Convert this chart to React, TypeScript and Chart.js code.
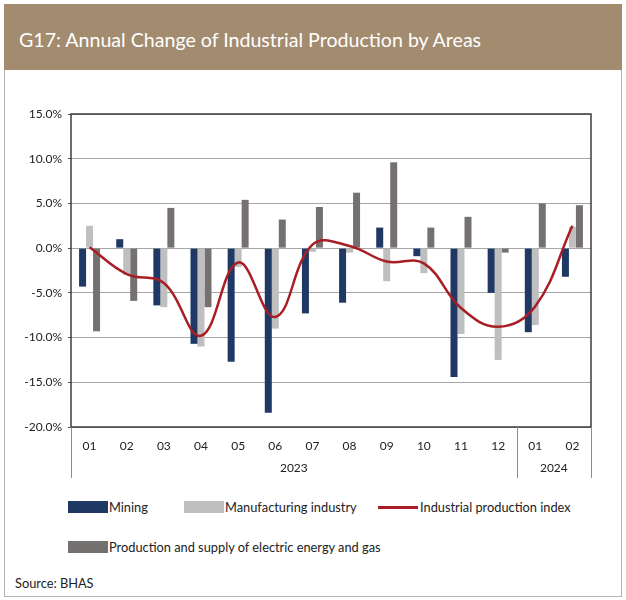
import React, { useEffect, useRef } from 'react';
import { Chart, registerables } from 'chart.js';

Chart.register(...registerables);

const months = ['01', '02', '03', '04', '05', '06', '07', '08', '09', '10', '11', '12', '01', '02'];
const years = ['2023', '2024'];
const yearSpans = [12, 2];

const mining = [-4.3, 1.0, -6.4, -10.7, -12.7, -18.4, -7.3, -6.1, 2.3, -0.9, -14.4, -5.0, -9.4, -3.2];
const manufacturing = [2.5, -3.0, -6.6, -11.0, -2.1, -9.0, -0.4, -0.5, -3.7, -2.8, -9.6, -12.5, -8.6, 2.4];
const electricity = [-9.3, -5.9, 4.5, -6.6, 5.4, 3.2, 4.6, 6.2, 9.6, 2.3, 3.5, -0.5, 5.0, 4.8];
const productionIndex = [0.1, -2.9, -3.9, -9.8, -1.6, -7.7, 0.4, 0.25, -1.5, -1.7, -6.7, -8.8, -6.5, 2.5];

const yTicksMin = -20;
const yTicksMax = 15;
const yTickStep = 5;

const FONT = 'Lato, "Open Sans", "Noto Sans", sans-serif';
const C_MINING = '#1f3864';
const C_MANUF = '#bfbfbf';
const C_ELEC = '#767171';
const C_LINE = '#a81e24';

export default function App() {
  const canvasRef = useRef<HTMLCanvasElement | null>(null);

  useEffect(() => {
    document.body.style.margin = '0';
    const canvas = canvasRef.current;
    if (!canvas) return;

    const framePlugin = {
      id: 'frameAndGroups',
      afterDatasetsDraw(chart: any) {
        const { ctx, chartArea: a } = chart;
        ctx.save();
        ctx.strokeStyle = '#3c3c3c';
        ctx.lineWidth = 1.5;
        ctx.strokeRect(a.left, a.top, a.right - a.left, a.bottom - a.top);
        ctx.restore();
      },
      afterDraw(chart: any) {
        const { ctx, chartArea: a } = chart;
        const x = chart.scales.x;
        const half = (x.getPixelForValue(1) - x.getPixelForValue(0)) / 2;
        ctx.save();
        ctx.strokeStyle = '#8c8c8c';
        ctx.lineWidth = 1;
        ctx.fillStyle = '#222';
        ctx.font = `12px ${FONT}`;
        ctx.textAlign = 'center';
        ctx.textBaseline = 'middle';
        let start = 0;
        yearSpans.forEach((n, i) => {
          const left = x.getPixelForValue(start) - half;
          const right = x.getPixelForValue(start + n - 1) + half;
          [left, right].forEach((px) => {
            ctx.beginPath();
            ctx.moveTo(Math.round(px) + 0.5, a.bottom);
            ctx.lineTo(Math.round(px) + 0.5, a.bottom + 51);
            ctx.stroke();
          });
          ctx.fillText(years[i], (left + right) / 2, a.bottom + 41);
          start += n;
        });
        ctx.restore();
      },
    };

    const chart = new Chart(canvas, {
      data: {
        labels: months,
        datasets: [
          { type: 'bar', label: 'Mining', data: mining, backgroundColor: C_MINING, order: 1 },
          { type: 'bar', label: 'Manufacturing industry', data: manufacturing, backgroundColor: C_MANUF, order: 1 },
          {
            type: 'line',
            label: 'Industrial production index',
            data: productionIndex,
            borderColor: C_LINE,
            borderWidth: 2.5,
            pointRadius: 0,
            tension: 0.4,
            fill: false,
            order: 0,
          },
          { type: 'bar', label: 'Production and supply of electric energy and gas', data: electricity, backgroundColor: C_ELEC, order: 1 },
        ],
      } as any,
      options: {
        responsive: false,
        animation: false,
        layout: { padding: { top: 14, right: 35, left: 0, bottom: 0 } },
        plugins: { legend: { display: false }, tooltip: { enabled: false } },
        datasets: { bar: { categoryPercentage: 0.565, barPercentage: 1 } },
        scales: {
          x: {
            grid: { display: false, drawTicks: false },
            border: { display: false },
            ticks: { font: { family: FONT, size: 12 }, color: '#222', padding: 12, maxRotation: 0, autoSkip: false },
            afterFit(s: any) { s.height = 63; },
          },
          y: {
            min: yTicksMin,
            max: yTicksMax,
            ticks: {
              stepSize: yTickStep,
              callback: (v: any) => Number(v).toFixed(1) + '%',
              font: { family: FONT, size: 12 },
              color: '#222',
              padding: 6,
            },
            grid: { color: '#a6a6a6', lineWidth: 1, tickLength: 3, tickColor: '#555' },
            border: { display: false },
            afterFit(s: any) { s.width = 71; },
          },
        },
      } as any,
      plugins: [framePlugin],
    });

    return () => chart.destroy();
  }, []);

  const txt: React.CSSProperties = { position: 'absolute', fontFamily: FONT, fontSize: 12.8, lineHeight: '16px', color: '#222', whiteSpace: 'nowrap' };

  return (
    <div style={{ position: 'relative', width: 626, height: 600, background: '#fff', overflow: 'hidden' }}>
      <div style={{ position: 'absolute', left: 4, top: 4, width: 616, height: 591, border: '1px solid #b4b4b4' }} />
      <div style={{ position: 'absolute', left: 4, top: 4, width: 618, height: 66, background: '#a38b70' }} />
      <div style={{ position: 'absolute', left: 19, top: 27, fontFamily: FONT, fontSize: 19.6, lineHeight: '26px', color: '#fff', whiteSpace: 'nowrap' }}>
        G17: Annual Change of Industrial Production by Areas
      </div>
      <canvas ref={canvasRef} width={626} height={390} style={{ position: 'absolute', left: 0, top: 100, width: 626, height: 390 }} />
      <div style={{ position: 'absolute', left: 68, top: 501, width: 40, height: 12, background: C_MINING }} />
      <div style={{ ...txt, left: 109, top: 499 }}>Mining</div>
      <div style={{ position: 'absolute', left: 184, top: 501, width: 40, height: 12, background: C_MANUF }} />
      <div style={{ ...txt, left: 225, top: 499 }}>Manufacturing industry</div>
      <div style={{ position: 'absolute', left: 378, top: 506, width: 40, height: 3, background: C_LINE }} />
      <div style={{ ...txt, left: 420, top: 499 }}>Industrial production index</div>
      <div style={{ position: 'absolute', left: 68, top: 541, width: 40, height: 12, background: C_ELEC }} />
      <div style={{ ...txt, left: 109, top: 539 }}>Production and supply of electric energy and gas</div>
      <div style={{ ...txt, left: 15, top: 575 }}>Source: BHAS</div>
    </div>
  );
}
